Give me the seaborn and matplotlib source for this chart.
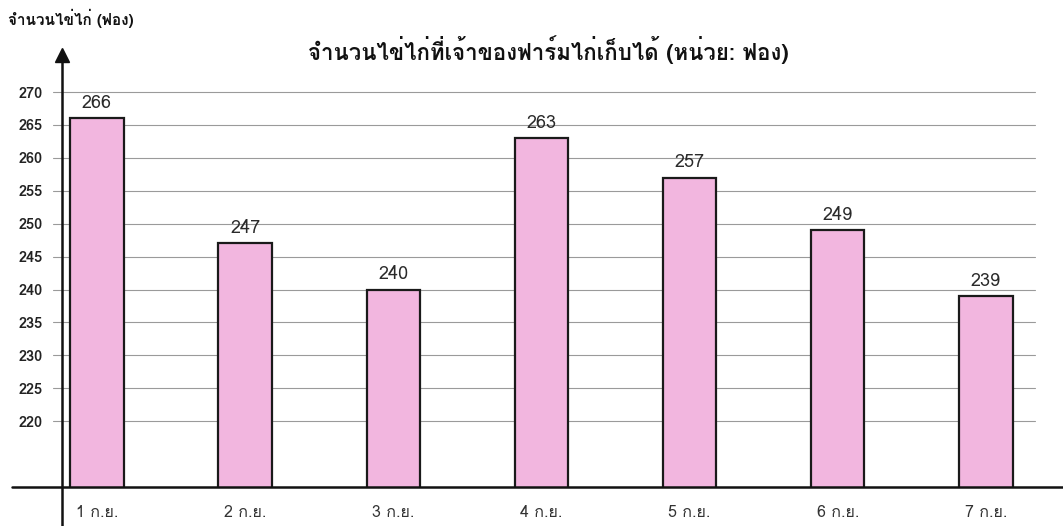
import matplotlib
matplotlib.use("Agg")
import matplotlib.pyplot as plt
from matplotlib.lines import Line2D
import seaborn as sns
import pandas as pd

# ข้อมูลจำนวนไข่ไก่รายวัน
days = ["1 ก.ย.", "2 ก.ย.", "3 ก.ย.", "4 ก.ย.", "5 ก.ย.", "6 ก.ย.", "7 ก.ย."]
eggs = [266, 247, 240, 263, 257, 249, 239]
yticks = [220, 225, 230, 235, 240, 245, 250, 255, 260, 265, 270]

sns.set_theme(style="white")
thai = ["Loma", "Noto Sans Thai Looped", "DejaVu Sans"]
plt.rcParams["font.family"] = thai

df = pd.DataFrame({"day": days, "eggs": eggs})

W, H = 1063, 526
fig = plt.figure(figsize=(W / 100, H / 100), dpi=100)
# แกน: ซ้ายที่ x=62px, ฐานที่ y=487px
ax = fig.add_axes([62 / W, (H - 487) / H, (W - 62) / W, (487 - 46) / H])

# เส้นกริด (ยื่นออกไปทางซ้ายของแกนเล็กน้อย)
for t in yticks:
    ax.plot([-0.30, 6.33], [t, t], color="#9a9a9a", lw=0.8, zorder=1, clip_on=False)

sns.barplot(data=df, x="day", y="eggs", color="#f2b6df", saturation=1,
            width=0.36, edgecolor="#1a1a1a", linewidth=1.6, ax=ax, zorder=2)
ax.set_xlim(-0.236, 6.52)
ax.set_ylim(210, 277)

for i, v in enumerate(eggs):
    ax.text(i, v + 1.0, str(v), ha="center", va="bottom", fontsize=13,
            color="#2a2a2a", family=thai)

ax.set_yticks(yticks)
ax.set_yticklabels([str(t) for t in yticks], fontsize=10.5, fontweight="bold",
                   color="#222222", family=thai)
ax.tick_params(axis="y", length=0, pad=14)
ax.tick_params(axis="x", length=0, pad=13, labelsize=11.5, labelcolor="#333333")
for lab in ax.get_xticklabels():
    lab.set_family(thai)
ax.set_xlabel("")
ax.set_ylabel("")

for s in ["top", "right", "left", "bottom"]:
    ax.spines[s].set_visible(False)

# แกน x ยาวเต็มความกว้าง และแกน y ยื่นลงล่าง
fig.add_artist(Line2D([12 / W, 1.0], [(H - 487) / H] * 2, color="#111111", lw=1.8))
fig.add_artist(Line2D([62 / W] * 2, [0, (H - 60) / H], color="#111111", lw=1.8))
fig.add_artist(Line2D([62 / W], [(H - 55) / H], marker="^", markersize=10,
                      color="#111111", linestyle="none"))

fig.text(8 / W, (H - 18) / H, "จำนวนไข่ไก่ (ฟอง)", fontsize=11, fontweight="bold",
         va="center", ha="left", family=thai, color="#111111")
fig.text(548 / W, (H - 50) / H, "จำนวนไข่ไก่ที่เจ้าของฟาร์มไก่เก็บได้ (หน่วย: ฟอง)",
         fontsize=16, fontweight="bold", va="center", ha="center", family=thai,
         color="#111111")

fig.savefig("out.png", dpi=100)
